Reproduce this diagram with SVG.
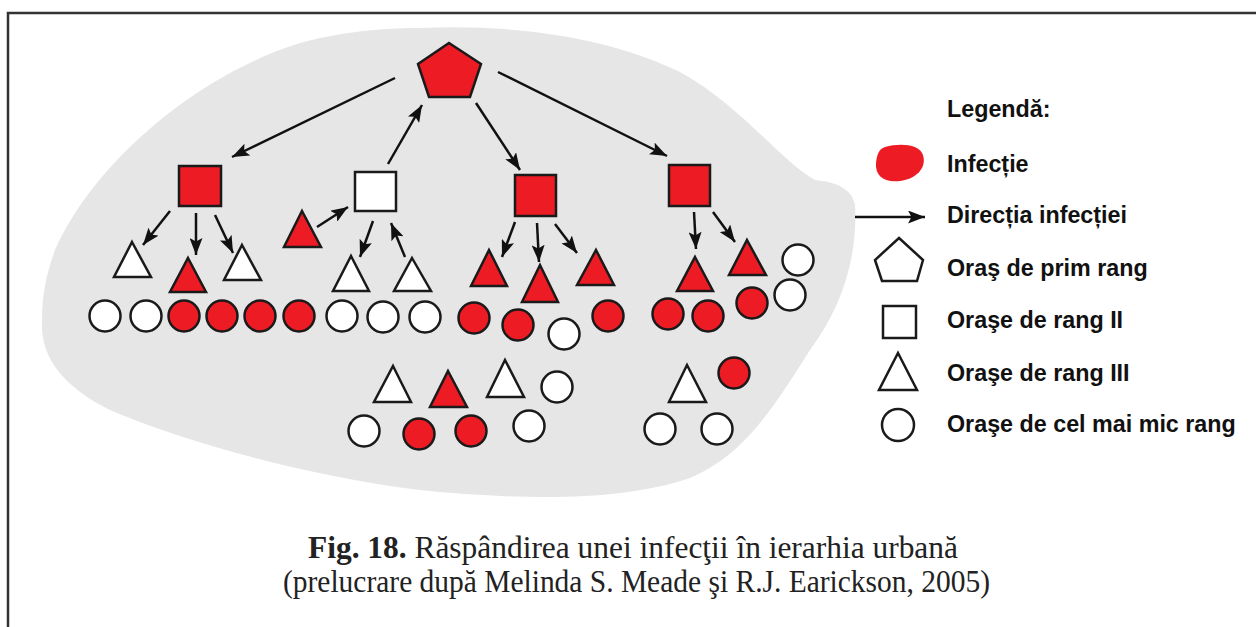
<svg xmlns="http://www.w3.org/2000/svg" width="1256" height="627" viewBox="0 0 1256 627">
<style>
.r{fill:#ed1c24;stroke:#1a1a1a;stroke-width:2.5}
.w{fill:#fff;stroke:#1a1a1a;stroke-width:2.5}
.a{fill:none;stroke:#111;stroke-width:2.5;marker-end:url(#ah)}
.lg{font-family:"Liberation Sans",Arial,sans-serif;font-weight:bold;font-size:23.3px;fill:#111}
.cap{font-family:"Liberation Serif","Times New Roman",serif;font-size:30.5px;fill:#222}
</style>
<defs>
<marker id="ah" markerUnits="userSpaceOnUse" markerWidth="18" markerHeight="13" refX="17" refY="6.5" orient="auto" viewBox="0 0 18 13">
<path d="M0,0 L17,6.5 L0,13 L3.5,6.5 Z" fill="#111"/>
</marker>
</defs>
<rect width="1256" height="627" fill="#fff"/>
<path d="M8,627 V13 H1256" fill="none" stroke="#333" stroke-width="2.5"/>
<path id="blob" d="M420,28 C520,24 610,38 680,72 C740,105 780,160 815,180 C835,182 852,188 855,205 C858,260 840,310 810,350 C775,405 745,455 690,478 C620,502 520,500 420,490 C300,475 180,440 110,410 C60,385 40,355 42,320 C42,290 48,270 55,250 C100,150 220,60 320,38 C360,30 390,28 420,28 Z" fill="#e6e6e6"/>
<g id="connectors">
<line class="a" x1="395" y1="78" x2="232" y2="157"/>
<line class="a" x1="388" y1="164" x2="422" y2="105"/>
<line class="a" x1="476" y1="103" x2="520" y2="170"/>
<line class="a" x1="498" y1="72" x2="667" y2="156"/>
<line class="a" x1="170" y1="211" x2="143" y2="245"/>
<line class="a" x1="196" y1="213" x2="196" y2="255"/>
<line class="a" x1="215" y1="215" x2="233" y2="253"/>
<line class="a" x1="317" y1="227" x2="348" y2="207"/>
<line class="a" x1="373" y1="221" x2="360" y2="257"/>
<line class="a" x1="405" y1="257" x2="391" y2="223"/>
<line class="a" x1="515" y1="222" x2="502" y2="257"/>
<line class="a" x1="537" y1="223" x2="539" y2="262"/>
<line class="a" x1="555" y1="224" x2="577" y2="253"/>
<line class="a" x1="694" y1="212" x2="696" y2="249"/>
<line class="a" x1="713" y1="212" x2="735" y2="242"/>
</g>
<g id="prim"><polygon class="r" points="449,43 481,64 470,97 429,97 418,64"/></g>
<g id="sq1"><rect class="r" x="179" y="166" width="42" height="40"/></g>
<g id="sq2"><rect class="w" x="355" y="172" width="41" height="39"/></g>
<g id="sq3"><rect class="r" x="515" y="175" width="41" height="41"/></g>
<g id="sq4"><rect class="r" x="669" y="165" width="41" height="41"/></g>
<g id="t1"><polygon class="w" points="132,242 151,277 114,277"/></g>
<g id="t2"><polygon class="r" points="188,258 206,292 170,292"/></g>
<g id="t3"><polygon class="w" points="242,245 261,280 224,280"/></g>
<g id="t4"><polygon class="r" points="302,211 321,247 284,247"/></g>
<g id="t5"><polygon class="w" points="351,256 369,291 333,291"/></g>
<g id="t6"><polygon class="w" points="412,258 431,291 394,291"/></g>
<g id="t7"><polygon class="r" points="489,250 507,286 471,286"/></g>
<g id="t8"><polygon class="r" points="540,265 558,302 522,302"/></g>
<g id="t9"><polygon class="r" points="596,250 614,285 577,285"/></g>
<g id="t10"><polygon class="r" points="695,257 713,291 677,291"/></g>
<g id="t11"><polygon class="r" points="747,240 766,275 729,275"/></g>
<g id="t12"><polygon class="w" points="393,366 411,402 374,402"/></g>
<g id="t13"><polygon class="r" points="448,371 467,407 430,407"/></g>
<g id="t14"><polygon class="w" points="505,360 524,397 487,397"/></g>
<g id="t15"><polygon class="w" points="687,365 706,402 669,402"/></g>
<g id="c1"><circle class="w" cx="105" cy="316" r="15.5"/></g>
<g id="c2"><circle class="w" cx="146" cy="316" r="15.5"/></g>
<g id="c3"><circle class="r" cx="184" cy="316" r="15.5"/></g>
<g id="c4"><circle class="r" cx="222" cy="316" r="15.5"/></g>
<g id="c5"><circle class="r" cx="260" cy="316" r="15.5"/></g>
<g id="c6"><circle class="r" cx="299" cy="316" r="15.5"/></g>
<g id="c7"><circle class="w" cx="342" cy="316" r="15.5"/></g>
<g id="c8"><circle class="w" cx="383" cy="317" r="15.5"/></g>
<g id="c9"><circle class="w" cx="425" cy="317" r="15.5"/></g>
<g id="c10"><circle class="r" cx="474" cy="318" r="15.5"/></g>
<g id="c11"><circle class="r" cx="518" cy="325" r="15.5"/></g>
<g id="c12"><circle class="w" cx="564" cy="334" r="15.5"/></g>
<g id="c13"><circle class="r" cx="608" cy="316" r="15.5"/></g>
<g id="c14"><circle class="r" cx="668" cy="314" r="15.5"/></g>
<g id="c15"><circle class="r" cx="708" cy="316" r="15.5"/></g>
<g id="c16"><circle class="r" cx="752" cy="303" r="15.5"/></g>
<g id="c17"><circle class="w" cx="798" cy="260" r="15.5"/></g>
<g id="c18"><circle class="w" cx="790" cy="295" r="15.5"/></g>
<g id="c19"><circle class="w" cx="557" cy="387" r="15.5"/></g>
<g id="c20"><circle class="w" cx="364" cy="431" r="15.5"/></g>
<g id="c21"><circle class="r" cx="419" cy="434" r="15.5"/></g>
<g id="c22"><circle class="r" cx="471" cy="431" r="15.5"/></g>
<g id="c23"><circle class="w" cx="529" cy="426" r="15.5"/></g>
<g id="c24"><circle class="r" cx="734" cy="373" r="15.5"/></g>
<g id="c25"><circle class="w" cx="660" cy="429" r="15.5"/></g>
<g id="c26"><circle class="w" cx="717" cy="429" r="15.5"/></g>
<g id="legend">
<text class="lg" x="947" y="117">Legendă:</text>
<path d="M885,147 C900,143 919,144 923,155 C927,168 916,179 900,181 C884,183 875,176 876,163 C877,154 879,149 885,147 Z" fill="#ed1c24"/>
<text class="lg" x="947" y="172">Infecție</text>
<line class="a" x1="855" y1="217" x2="925" y2="217"/>
<text class="lg" x="947" y="223">Direcția infecției</text>
<polygon class="w" points="899,238 923,260 917,281 882,281 875,260"/>
<text class="lg" x="947" y="276">Oraş de prim rang</text>
<rect class="w" x="883" y="306" width="33" height="32"/>
<text class="lg" x="947" y="328">Oraşe de rang II</text>
<polygon class="w" points="898,353 917,390 879,390"/>
<text class="lg" x="947" y="381">Oraşe de rang III</text>
<circle class="w" cx="898" cy="425" r="16"/>
<text class="lg" x="947" y="432">Oraşe de cel mai mic rang</text>
</g>
<g id="caption">
<text class="cap" x="308" y="558" textLength="650" lengthAdjust="spacingAndGlyphs"><tspan font-weight="bold">Fig. 18.</tspan> Răspândirea unei infecţii în ierarhia urbană</text>
<text class="cap" x="283" y="592" textLength="707" lengthAdjust="spacingAndGlyphs">(prelucrare după Melinda S. Meade şi R.J. Earickson, 2005)</text>
</g>
</svg>
